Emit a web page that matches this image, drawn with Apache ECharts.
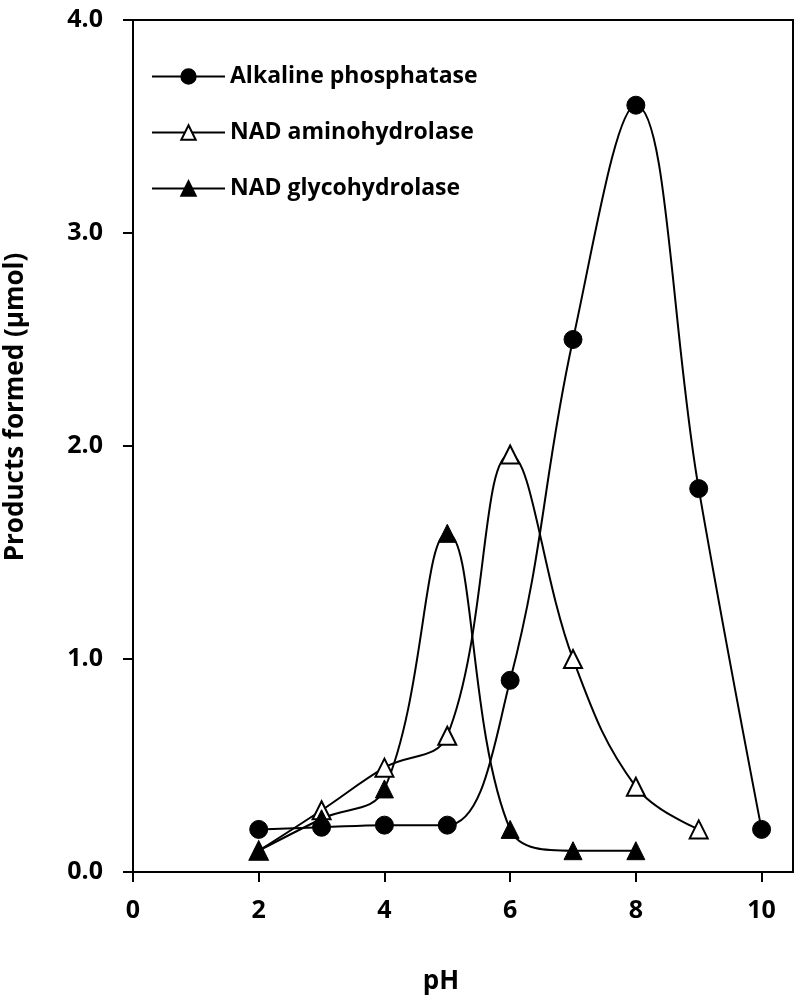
<!DOCTYPE html>
<html>
<head>
<meta charset="utf-8">
<script src="https://cdn.jsdelivr.net/npm/echarts@6/dist/echarts.min.js"></script>
<style>
html,body{margin:0;padding:0;background:#fff;}
#main{width:796px;height:1004px;}
</style>
</head>
<body>
<div id="main"></div>
<script>
const seriesNames = ['Alkaline phosphatase', 'NAD aminohydrolase', 'NAD glycohydrolase'];
const alkX = [2, 3, 4, 5, 6, 7, 8, 9, 10];
const alkY = [0.20, 0.21, 0.22, 0.22, 0.90, 2.50, 3.60, 1.80, 0.20];
const aminoX = [2, 3, 4, 5, 6, 7, 8, 9];
const aminoY = [0.10, 0.29, 0.49, 0.64, 1.96, 1.00, 0.40, 0.20];
const glycoX = [2, 3, 4, 5, 6, 7, 8];
const glycoY = [0.10, 0.25, 0.39, 1.59, 0.20, 0.10, 0.10];
const xTicks = [0, 2, 4, 6, 8, 10];
const yTicks = [0, 1, 2, 3, 4];

const FONT = 'Open Sans';
function pairs(xs, ys) { return xs.map((x, i) => [x, ys[i]]); }

const chart = echarts.init(document.getElementById('main'), null, {renderer: 'canvas'});
const base = {
  type: 'line', smooth: 0.4, symbolSize: 18,
  lineStyle: {color: '#000', width: 2},
  z: 3
};
chart.setOption({
  animation: false,
  backgroundColor: '#fff',
  grid: {left: 133, right: 3, top: 20, bottom: 132, show: true, borderColor: '#000', borderWidth: 2,
    backgroundColor: 'transparent', containLabel: false, outerBoundsMode: 'none'},
  legend: {
    orient: 'vertical', left: 146, top: 60, itemWidth: 73, itemHeight: 18, itemGap: 33,
    textStyle: {fontFamily: FONT, fontWeight: 'bold', fontSize: 23, color: '#000'},
    data: seriesNames
  },
  xAxis: {
    type: 'value', min: 0, max: 10.5,
    name: 'pH', nameLocation: 'middle', nameGap: 97,
    nameTextStyle: {fontFamily: FONT, fontWeight: 'bold', fontSize: 26, color: '#000', padding: [0, 44, 0, 0]},
    axisLine: {show: true, onZero: false, lineStyle: {color: '#000', width: 2}},
    axisTick: {show: true, length: 10, inside: false, customValues: xTicks, lineStyle: {color: '#000', width: 2}},
    axisLabel: {customValues: xTicks, margin: 26, fontFamily: FONT, fontWeight: 'bold', fontSize: 25, color: '#000'},
    splitLine: {show: false}
  },
  yAxis: {
    type: 'value', min: 0, max: 4, interval: 1,
    name: 'Products formed (µmol)', nameLocation: 'middle', nameGap: 104, nameRotate: 90,
    nameTextStyle: {fontFamily: FONT, fontWeight: 'bold', fontSize: 26, color: '#000', padding: [0, 0, 0, 78]},
    axisLine: {show: true, lineStyle: {color: '#000', width: 2}},
    axisTick: {show: true, length: 10, customValues: yTicks, lineStyle: {color: '#000', width: 2}},
    axisLabel: {customValues: yTicks, margin: 30, fontFamily: FONT, fontWeight: 'bold', fontSize: 25, color: '#000',
      formatter: v => v.toFixed(1)},
    splitLine: {show: false}
  },
  series: [
    Object.assign({}, base, {name: seriesNames[0], symbol: 'circle', data: pairs(alkX, alkY),
      itemStyle: {color: '#000', borderColor: '#000', borderWidth: 1}}),
    Object.assign({}, base, {name: seriesNames[1], symbol: 'triangle', data: pairs(aminoX, aminoY),
      itemStyle: {color: '#fff', borderColor: '#000', borderWidth: 2}}),
    Object.assign({}, base, {name: seriesNames[2], symbol: 'triangle', data: pairs(glycoX, glycoY),
      itemStyle: {color: '#000', borderColor: '#000', borderWidth: 1}})
  ]
});
</script>
</body>
</html>
